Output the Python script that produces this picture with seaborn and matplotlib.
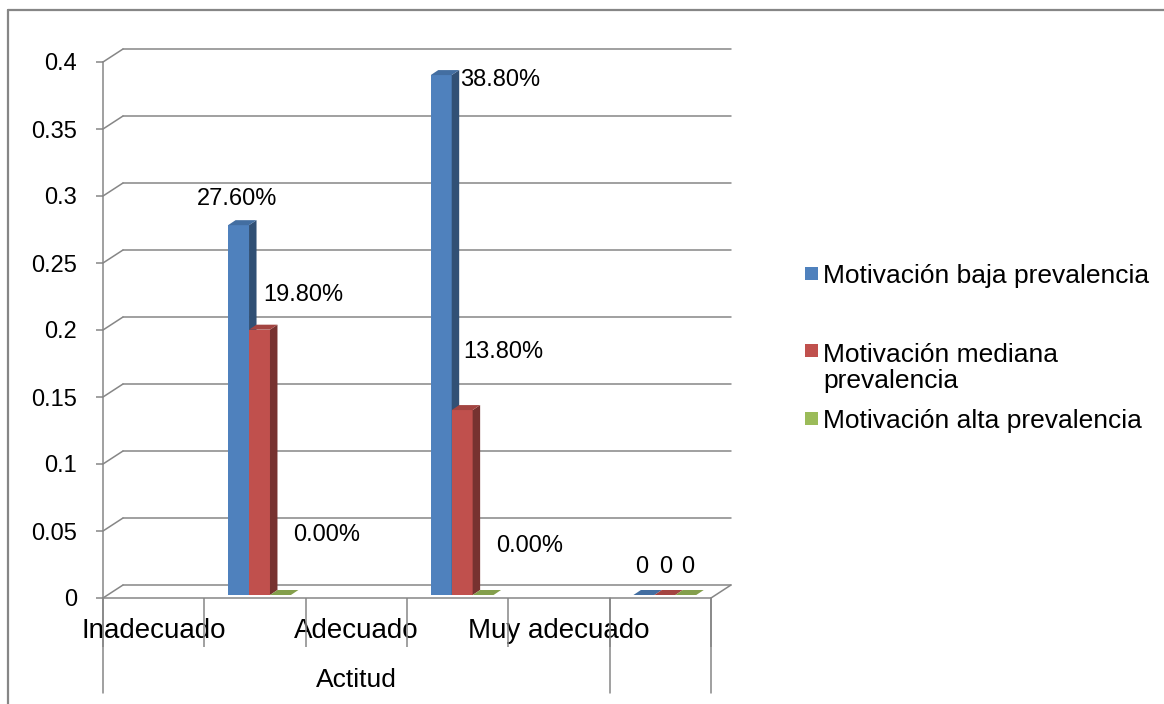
import numpy as np
import pandas as pd
import matplotlib
matplotlib.use("Agg")
import matplotlib.pyplot as plt
import seaborn as sns
from matplotlib.patches import Polygon, Rectangle
from matplotlib.lines import Line2D
from matplotlib.transforms import ScaledTranslation
from matplotlib.colors import to_rgb

# --- data -------------------------------------------------------------
actitud = ["Inadecuado", "Adecuado", "Muy adecuado"]
series = ["Motivación baja prevalencia",
          "Motivación mediana prevalencia",
          "Motivación alta prevalencia"]
baja = [0.276, 0.388, 0.0]
mediana = [0.198, 0.138, 0.0]
alta = [0.0, 0.0, 0.0]
formatos = ["{:.2%}", "{:.2%}", "{:g}"]          # number format per group
yticks = [0, 0.05, 0.1, 0.15, 0.2, 0.25, 0.3, 0.35, 0.4]
eje_titulo = "Actitud"
leyenda = ["Motivación baja prevalencia",
           "Motivación mediana\nprevalencia",
           "Motivación alta prevalencia"]

colors = ["#4F81BD", "#C0504D", "#9BBB59"]
GRID = "#868686"

sns.set_style("white")
plt.rcParams["font.family"] = ["Liberation Sans", "DejaVu Sans"]
plt.rcParams["text.color"] = "black"

W, H = 1164, 704
fig = plt.figure(figsize=(W / 100, H / 100), dpi=100)


def fx(px):
    return px / W


def fy(py):
    return 1 - py / H


PT = 0.72  # points per pixel at 100 dpi

ax = fig.add_axes([fx(103), fy(598), fx(711) - fx(103), fy(62) - fy(598)])

# six category slots: labels on even slots, bars on odd slots
rows = []
for name, vals in zip(series, [baja, mediana, alta]):
    for k, v in enumerate(vals):
        rows.append({"slot": 2 * k + 1, "valor": v, "serie": name})
df = pd.DataFrame(rows)

sns.barplot(data=df, x="slot", y="valor", hue="serie", order=list(range(6)),
            hue_order=series, palette=colors, width=0.62, saturation=1,
            errorbar=None, legend=False, linewidth=0, ax=ax)

ax.set_xlim(-0.5, 5.5)
ax.set_ylim(0, 0.4)

# data units per pixel
p0 = ax.transData.transform((0, 0))
sx = 1.0 / (ax.transData.transform((1, 0))[0] - p0[0])
sy = 1.0 / (ax.transData.transform((0, 1))[1] - p0[1])

# back walls: gridlines on the back plane, diagonals from the front axis
wall_dx, wall_dy = 20 * sx, 13 * sy
for v in yticks:
    ax.plot([-0.5 + wall_dx, 5.5 + wall_dx], [v + wall_dy] * 2, color=GRID,
            lw=1.1, clip_on=False, zorder=0.5)
    ax.plot([-0.5, -0.5 + wall_dx], [v, v + wall_dy], color=GRID,
            lw=1.1, clip_on=False, zorder=0.5)
ax.plot([5.5, 5.5 + wall_dx], [0, wall_dy], color=GRID, lw=1.1,
        clip_on=False, zorder=0.5)

# category separators below the axis
for b in [-0.5, 4.5, 5.5]:
    ax.plot([b, b], [0, -95 * sy], color=GRID, lw=1.1, clip_on=False, zorder=0.5)

# 3D look for the bars: shift front faces into depth, add side and top faces
off_x, off_y = 4.5, 3.0
dep_x, dep_y = 7.5 * sx, 5.0 * sy
shift = ScaledTranslation(off_x / 100, off_y / 100, fig.dpi_scale_trans)
ox, oy = off_x * sx, off_y * sy


def shade(c, f):
    r, g, b = to_rgb(c)
    return (r * f, g * f, b * f)


bars = sorted([p for p in ax.patches if isinstance(p, Rectangle)],
              key=lambda p: p.get_x())
for i, p in enumerate(bars):
    z = 2 + i * 0.01
    x0, w, h = p.get_x(), p.get_width(), p.get_height()
    x1 = x0 + w
    col = p.get_facecolor()
    p.set_transform(ax.transData + shift)
    p.set_zorder(z)
    side = [(x1 + ox, oy), (x1 + ox + dep_x, oy + dep_y),
            (x1 + ox + dep_x, h + oy + dep_y), (x1 + ox, h + oy)]
    top = [(x0 + ox, h + oy), (x1 + ox, h + oy),
           (x1 + ox + dep_x, h + oy + dep_y), (x0 + ox + dep_x, h + oy + dep_y)]
    ax.add_patch(Polygon(side, closed=True, facecolor=shade(col, 0.62),
                         edgecolor="none", zorder=z, clip_on=False))
    ax.add_patch(Polygon(top, closed=True, facecolor=shade(col, 0.85),
                         edgecolor="none", zorder=z, clip_on=False))

# data labels (pixel offsets from the top-centre of each bar)
label_offsets = {
    0: [(3.5, 29), (63.8, -2), (2.6, 31)],
    1: [(48, 37.7), (45.3, 61.5), (5.7, 31)],
    2: [(51, 63), (51.4, 51.5), (6.7, 31)],
}
bar_w = 0.62 / 3
for s, vals in enumerate([baja, mediana, alta]):
    for k, v in enumerate(vals):
        xc = 2 * k + 1 + (s - 1) * bar_w
        dxp, dyp = label_offsets[s][k]
        ax.annotate(formatos[k].format(v), xy=(xc, v),
                    xytext=(dxp * PT, dyp * PT), textcoords="offset points",
                    ha="center", va="center", fontsize=17, zorder=10,
                    annotation_clip=False)

# axes styling
for side_name in ["top", "right"]:
    ax.spines[side_name].set_visible(False)
for side_name in ["left", "bottom"]:
    ax.spines[side_name].set_color(GRID)
    ax.spines[side_name].set_linewidth(1.1)

ax.set_yticks(yticks, labels=[f"{v:g}" for v in yticks])
ax.tick_params(axis="y", length=7 * PT, width=1.1, color=GRID,
               pad=19 * PT, labelsize=17, labelcolor="black", left=True)

ax.set_xticks([0, 2, 4], labels=actitud)
ax.set_xticks(np.arange(-0.5, 6, 1.0), minor=True)
ax.tick_params(axis="x", which="major", length=0, pad=40 * PT,
               labelsize=20, labelcolor="black")
ax.tick_params(axis="x", which="minor", length=49 * PT, width=1.1,
               color=GRID, direction="out", bottom=True)
for lab in ax.get_xticklabels():
    lab.set_va("baseline")

ax.set_xlabel(eje_titulo, fontsize=19, color="black")
ax.xaxis.set_label_coords(2.5 / 6, -(687 - 598) / 536)
ax.xaxis.label.set_va("baseline")
ax.set_ylabel("")
ax.grid(False)
ax.set_facecolor("none")

# legend (squares beside the first line of each entry)
leg_base = [283, 360, 428]
line_px = 28
for col, lab, yb in zip(colors, leyenda, leg_base):
    fig.add_artist(Rectangle((fx(805), fy(yb - 3)), 13 / W, 13 / H,
                             transform=fig.transFigure, facecolor=col,
                             edgecolor="none"))
    n_extra = lab.count("\n")
    fig.text(fx(823), fy(yb + n_extra * line_px), lab, va="baseline",
             ha="left", fontsize=19, linespacing=1.12)

# chart frame
fig.add_artist(Line2D([fx(8), 1], [fy(10), fy(10)], color=GRID, lw=1.6,
                      transform=fig.transFigure))
fig.add_artist(Line2D([fx(8), fx(8)], [fy(10), 0], color=GRID, lw=1.6,
                      transform=fig.transFigure))

fig.savefig("out.png", dpi=100)
